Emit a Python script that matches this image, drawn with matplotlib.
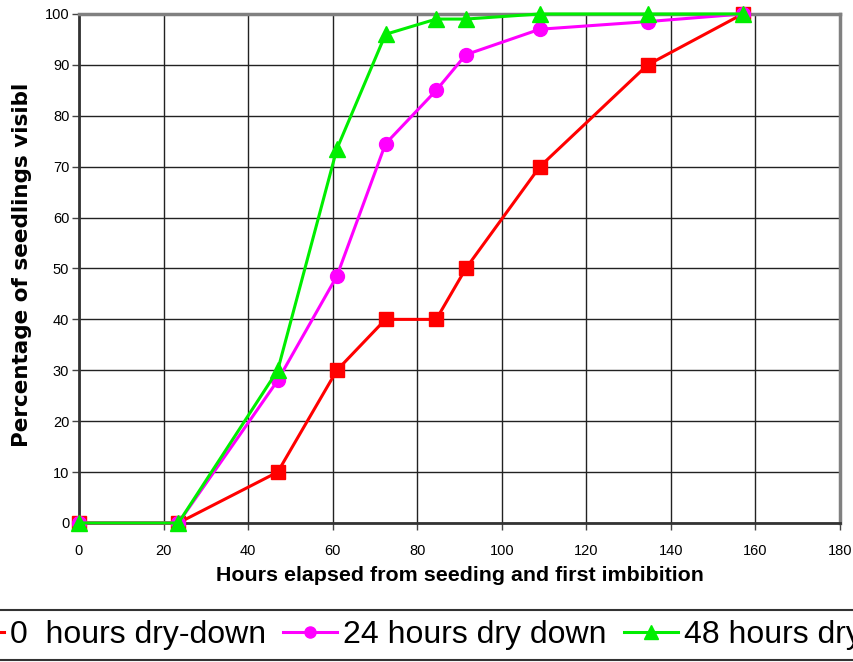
import numpy as np
import matplotlib
matplotlib.use("Agg")
import matplotlib.pyplot as plt

plt.rcParams['font.family'] = ['Liberation Sans', 'DejaVu Sans']

# hours after seeding / first imbibition
hours = [0, 23.5, 47, 61, 72.5, 84.5, 91.5, 109, 134.5, 157]

# percentage of seedlings visible for each dry-down treatment
dry0 = [0, 0, 10, 30, 40, 40, 50, 70, 90, 100]
dry24 = [0, 0, 28, 48.5, 74.5, 85, 92, 97, 98.5, 100]
dry48 = [0, 0, 30, 73.5, 96, 99, 99, 100, 100, 100]

labels = ['0  hours dry-down', '24 hours dry down', '48 hours dry-down']

fig = plt.figure(figsize=(8.54, 6.62), dpi=100)
ax = fig.add_axes([0.0925, 0.21, 0.8911, 0.7689])

ax.plot(hours, dry0, color='#ff0000', lw=2.2, marker='s', ms=10,
        label=labels[0], clip_on=False, zorder=3)
ax.plot(hours, dry24, color='#ff00ff', lw=2.2, marker='o', ms=10,
        label=labels[1], clip_on=False, zorder=4)
ax.plot(hours, dry48, color='#00ee00', lw=2.2, marker='^', ms=12,
        label=labels[2], clip_on=False, zorder=5)

ax.set_xlim(0, 180)
ax.set_ylim(0, 100)
ax.set_xticks(np.arange(0, 181, 20))
ax.set_yticks(np.arange(0, 101, 10))
ax.grid(True, color='#222222', lw=1)
ax.set_axisbelow(True)

ax.tick_params(labelsize=10.5, length=5, width=1, color='#444444')
ax.tick_params(axis='x', pad=10)
ax.tick_params(axis='y', pad=2)
for side in ['left', 'bottom']:
    ax.spines[side].set_color('#333333')
    ax.spines[side].set_linewidth(2)
for side in ['top', 'right']:
    ax.spines[side].set_color('#808080')
    ax.spines[side].set_linewidth(2.5)

ax.set_xlabel('Hours elapsed from seeding and first imbibition',
              fontsize=15.4, fontweight='bold', labelpad=6)
fig.text(0.026, 1 - 265 / 662, 'Percentage of seedlings visibl',
         rotation=90, ha='center', va='center', family='DejaVu Sans',
         fontsize=15.5, fontweight='bold')

leg = fig.legend(loc='center left', bbox_to_anchor=(-60 / 854, 1 - 635 / 662),
                 ncol=3, fontsize=23, frameon=True, fancybox=False,
                 markerscale=0.8, handlelength=1.7, handletextpad=0.19,
                 columnspacing=0.53, borderpad=0.3, borderaxespad=0)
leg.get_frame().set_edgecolor('black')
leg.get_frame().set_linewidth(1.5)

fig.savefig('out.png', dpi=100)
